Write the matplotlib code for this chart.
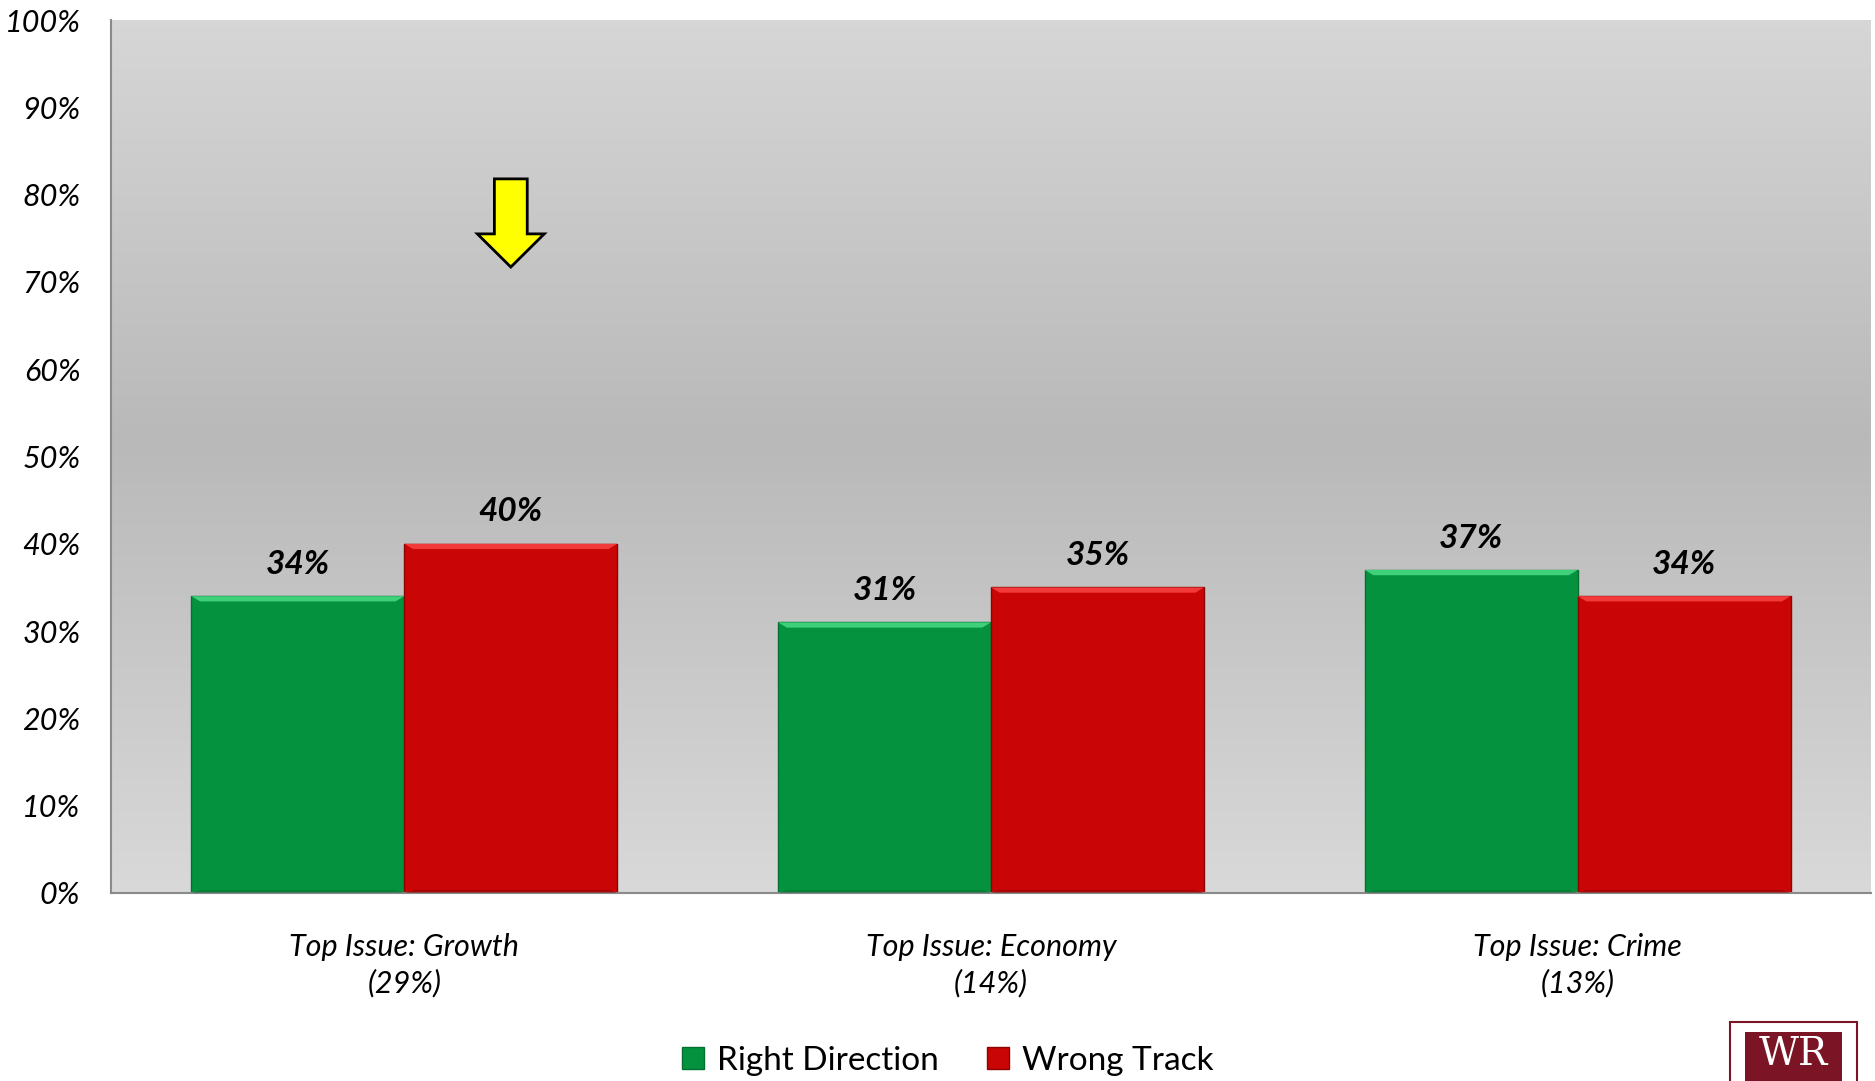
import matplotlib
matplotlib.use("Agg")
import matplotlib.pyplot as plt
import numpy as np
from matplotlib.patches import Rectangle, Polygon
from matplotlib.lines import Line2D

categories = ["Top Issue: Growth\n(29%)", "Top Issue: Economy\n(14%)", "Top Issue: Crime\n(13%)"]
series_names = ["Right Direction", "Wrong Track"]
right_direction = [34, 31, 37]
wrong_track = [40, 35, 34]
yticks = [0, 10, 20, 30, 40, 50, 60, 70, 80, 90, 100]
ytick_labels = [f"{v}%" for v in yticks]

plt.rcParams['font.family'] = ['Lato', 'DejaVu Sans']

GREEN = "#05923f"
RED = "#c90506"

fig = plt.figure(figsize=(18.75, 10.81), dpi=100)
fig.patch.set_facecolor("white")
ax = fig.add_axes([111/1875, 1-893/1081, 1760/1875, 873/1081])

# gradient background
t = np.linspace(0, 1, 256)
vals = 0.85 - 0.125 * np.clip(1 - np.abs(t - 0.52) / 0.52, 0, 1)
grad = np.repeat(vals[:, None], 2, axis=1)
grad_rgb = np.dstack([grad, grad, grad])
ax.imshow(grad_rgb, extent=[-0.5, 2.5, 0, 100], origin="lower", aspect="auto", zorder=0)

x = np.arange(len(categories))
w = 0.363

def draw_bars(xpos, heights, color, dark, light):
    bars = ax.bar(xpos, heights, width=w, color=color, edgecolor=dark, linewidth=1.0, zorder=2)
    for b in bars:
        x0 = b.get_x(); x1 = x0 + b.get_width(); h = b.get_height()
        bev_x = 0.015; bev_y = 0.6
        ax.add_patch(Polygon([[x0, h], [x1, h], [x1 - bev_x, h - bev_y], [x0 + bev_x, h - bev_y]],
                             closed=True, facecolor=light, edgecolor="none", zorder=3))
        ax.add_patch(Polygon([[x0, 0], [x1, 0], [x1 - bev_x, bev_y * 0.6], [x0 + bev_x, bev_y * 0.6]],
                             closed=True, facecolor=dark, edgecolor="none", alpha=0.5, zorder=3))
    return bars

b1 = draw_bars(x - w/2, right_direction, GREEN, "#03702f", "#3fd07a")
b2 = draw_bars(x + w/2, wrong_track, RED, "#8e0303", "#f23a3a")

for bars in (b1, b2):
    for b in bars:
        ax.annotate(f"{int(b.get_height())}%", (b.get_x() + b.get_width()/2, b.get_height()),
                    xytext=(0, 23), textcoords="offset points", ha="center", va="center",
                    fontsize=24, fontweight="bold", fontstyle="italic", color="black", zorder=5)

# yellow arrow above the Growth "Wrong Track" bar
ac = x[0] + w/2
arrow = Polygon([[ac - 0.028, 81.8], [ac + 0.028, 81.8], [ac + 0.028, 75.5], [ac + 0.057, 75.5],
                 [ac, 71.7], [ac - 0.057, 75.5], [ac - 0.028, 75.5]],
                closed=True, facecolor="#ffff00", edgecolor="black", linewidth=2, zorder=6)
ax.add_patch(arrow)

ax.set_xlim(-0.5, 2.5)
ax.set_ylim(0, 100)
ax.set_yticks(yticks)
ax.set_yticklabels(ytick_labels, fontstyle="italic", fontsize=22)
ax.set_xticks(x)
ax.set_xticklabels(categories, fontstyle="italic", fontsize=22, linespacing=1.3)
ax.tick_params(axis="y", length=0, pad=22)
ax.tick_params(axis="x", length=0, pad=29)
for s in ["top", "right"]:
    ax.spines[s].set_visible(False)
ax.spines["left"].set_color("#8a8a8a")
ax.spines["left"].set_linewidth(1.5)
ax.spines["bottom"].set_color("#8a8a8a")
ax.spines["bottom"].set_linewidth(1.5)

handles = [Line2D([], [], marker="s", linestyle="none", markersize=16, markerfacecolor=GREEN,
                  markeredgecolor="#03702f"),
           Line2D([], [], marker="s", linestyle="none", markersize=16, markerfacecolor=RED,
                  markeredgecolor="#8e0303")]
fig.legend(handles, series_names, loc="center", bbox_to_anchor=(0.504, 1 - 1061/1081), ncol=2,
           frameon=False, fontsize=24, handletextpad=0.2, columnspacing=1.3, handlelength=1.0)

# logo (partially cut off at the bottom)
fig.patches.append(Rectangle((1730/1875, -0.02), 127/1875, 0.02 + 1 - 1022/1081, transform=fig.transFigure,
                             facecolor="white", edgecolor="#7b1526", linewidth=1.5, figure=fig))
fig.patches.append(Rectangle((1745/1875, -0.02), 97/1875, 0.02 + 1 - 1032/1081, transform=fig.transFigure,
                             facecolor="#7b1526", edgecolor="none", figure=fig))
fig.text(1793/1875, 1 - 1036/1081, "WR", color="white", fontsize=28, family="DejaVu Serif",
         ha="center", va="top")

fig.savefig("out.png", dpi=100)
